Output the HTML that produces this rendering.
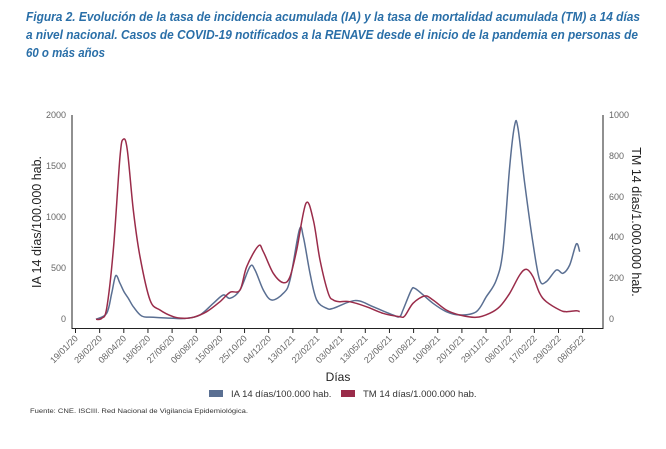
<!DOCTYPE html>
<html><head><meta charset="utf-8"><style>
html,body{margin:0;padding:0;background:#fff;}
svg text{font-family:"Liberation Sans",sans-serif;}
</style></head><body>
<svg id="s" width="666" height="444" viewBox="0 0 666 444" xmlns="http://www.w3.org/2000/svg">
<g font-weight="bold" font-style="italic" fill="#2a6fa8" font-size="12.5">
<text x="26" y="21" textLength="614" lengthAdjust="spacingAndGlyphs">Figura 2. Evolución de la tasa de incidencia acumulada (IA) y la tasa de mortalidad acumulada (TM) a 14 días</text>
<text x="26" y="39" textLength="612" lengthAdjust="spacingAndGlyphs">a nivel nacional. Casos de COVID-19 notificados a la RENAVE desde el inicio de la pandemia en personas de</text>
<text x="26" y="57" textLength="79" lengthAdjust="spacingAndGlyphs">60 o más años</text>
</g>
<g stroke="#222" stroke-width="1" fill="none">
<line x1="72" y1="115" x2="72" y2="329"/>
<line x1="603" y1="115" x2="603" y2="329"/>
<line x1="72" y1="328.5" x2="603" y2="328.5"/>
</g>
<g id="ticks"></g>
<g fill="#666" font-size="9">
<text x="66" y="118" text-anchor="end">2000</text>
<text x="66" y="169" text-anchor="end">1500</text>
<text x="66" y="220" text-anchor="end">1000</text>
<text x="66" y="271" text-anchor="end">500</text>
<text x="66" y="322" text-anchor="end">0</text>
<text x="609" y="118">1000</text>
<text x="609" y="159">800</text>
<text x="609" y="200">600</text>
<text x="609" y="240">400</text>
<text x="609" y="281">200</text>
<text x="609" y="322">0</text>
</g>
<text transform="translate(41,222) rotate(-90)" text-anchor="middle" font-size="12.5" fill="#222">IA 14 días/100.000 hab.</text>
<text transform="translate(632,222) rotate(90)" text-anchor="middle" font-size="12.5" fill="#222">TM 14 días/1.000.000 hab.</text>
<text x="338" y="381" text-anchor="middle" font-size="12" fill="#222">Días</text>
<rect x="209" y="390" width="14" height="7" fill="#5a6f92"/>
<text x="231" y="397" font-size="9.5" fill="#333">IA 14 días/100.000 hab.</text>
<rect x="341" y="390" width="14" height="7" fill="#9a2c4a"/>
<text x="363" y="397" font-size="9.5" fill="#333">TM 14 días/1.000.000 hab.</text>
<text x="30" y="413" font-size="6.5" fill="#333" textLength="218" lengthAdjust="spacingAndGlyphs">Fuente: CNE. ISCIII. Red Nacional de Vigilancia Epidemiológica.</text>
<path id="blue" fill="none" stroke="#5a6f92" stroke-width="1.5" stroke-linejoin="round"/>
<path id="red" fill="none" stroke="#9a2c4a" stroke-width="1.5" stroke-linejoin="round"/>
</svg>
<script>
var b1=[[288,658],[320,640],[335,580],[347,527],[360,550],[372,575],[385,595],[400,620],[425,648],[460,652],[520,655],[560,655],[600,645],[640,610],[670,585],[690,595],[720,570],[750,500],[765,510],[790,570],[815,600],[850,580],[870,540],[898,390],[910,410],[930,520],[950,600],[980,625],[1000,625]];
var b2=[[50,605],[80,603],[120,620],[180,645],[200,650],[210,630],[235,570],[245,565],[265,580],[300,610],[340,635],[380,645],[430,635],[460,590],[490,540],[510,450],[530,200],[545,75],[555,85],[575,250],[600,430],[620,540],[640,545],[670,510],[690,520],[710,495],[730,432],[740,455]];
var r1=[[288,658],[305,655],[320,625],[340,450],[360,170],[370,118],[382,150],[400,330],[420,470],[450,600],[480,630],[520,650],[550,655],[580,652],[620,635],[660,605],[690,577],[720,570],[740,500],[775,438],[790,455],[820,520],[850,548],[870,530],[890,450],[918,310],[940,360],[960,480],[985,580],[1000,600]];
var r2=[[20,605],[50,605],[100,620],[150,640],[200,650],[215,648],[240,610],[275,588],[300,600],[340,630],[380,645],[430,652],[470,640],[500,620],[530,580],[560,525],[580,508],[600,530],[620,580],[640,605],[680,630],[700,635],[730,632],[740,635]];
function conv(a,ox){return a.map(function(p){return [p[0]/3+ox,p[1]/3+100];});}
function smooth(p){var d='M'+p[0][0].toFixed(1)+','+p[0][1].toFixed(1);
for(var i=0;i<p.length-1;i++){var p0=p[i-1]||p[i],p1=p[i],p2=p[i+1],p3=p[i+2]||p2;
var c1=[p1[0]+(p2[0]-p0[0])/6,p1[1]+(p2[1]-p0[1])/6],c2=[p2[0]-(p3[0]-p1[0])/6,p2[1]-(p3[1]-p1[1])/6];
d+=' C'+c1[0].toFixed(1)+','+c1[1].toFixed(1)+' '+c2[0].toFixed(1)+','+c2[1].toFixed(1)+' '+p2[0].toFixed(1)+','+p2[1].toFixed(1);}
return d;}
document.getElementById('blue').setAttribute('d',smooth(conv(b1,0).concat(conv(b2,333))));
document.getElementById('red').setAttribute('d',smooth(conv(r1,0).concat(conv(r2,333))));
var labels=["19/01/20","28/02/20","08/04/20","18/05/20","27/06/20","06/08/20","15/09/20","25/10/20","04/12/20","13/01/21","22/02/21","03/04/21","13/05/21","22/06/21","01/08/21","10/09/21","20/10/21","29/11/21","08/01/22","17/02/22","29/03/22","08/05/22"];
var g=document.getElementById('ticks'),h='';
for(var i=0;i<labels.length;i++){var x=75.5+i*24.15;
h+='<line x1="'+x+'" y1="329" x2="'+x+'" y2="333" stroke="#222"/>';
h+='<text transform="translate('+(x+3)+',339) rotate(-45)" text-anchor="end" font-size="9" fill="#666">'+labels[i]+'</text>';}
g.innerHTML=h;
</script>
</body></html>
